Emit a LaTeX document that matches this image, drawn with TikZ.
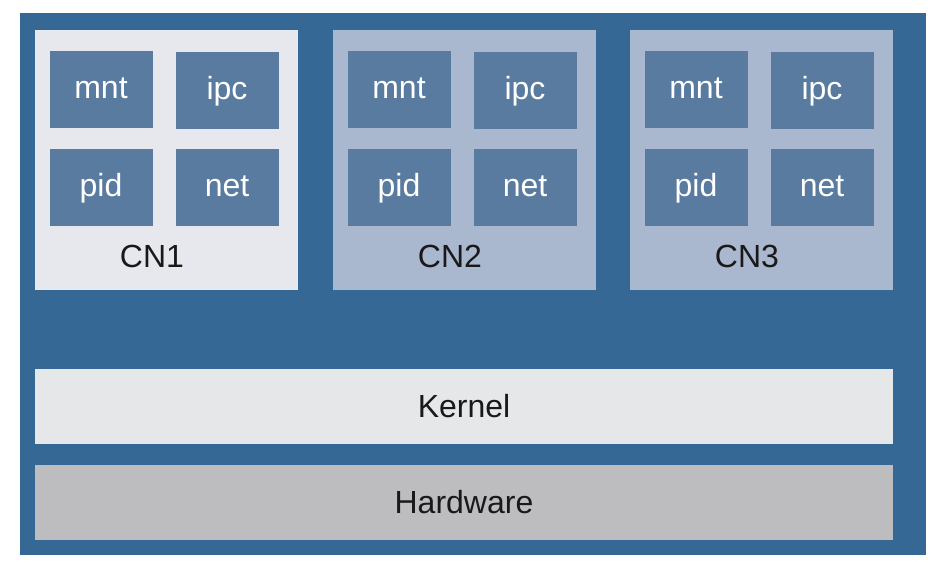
\documentclass[tikz,border=0pt]{standalone}
\usepackage{fontspec}
\setmainfont{Liberation Sans}
\definecolor{hostblue}{RGB}{54,104,149}
\definecolor{nsblue}{RGB}{90,123,160}
\definecolor{cnlight}{RGB}{230,232,238}
\definecolor{cnblue}{RGB}{169,183,207}
\definecolor{kernelgray}{RGB}{230,231,233}
\definecolor{hwgray}{RGB}{189,189,191}
\definecolor{labeltext}{RGB}{25,25,25}
\begin{document}
\begin{tikzpicture}[x=1pt,y=-1pt,
  nsbox/.style={fill=nsblue,minimum width=103pt,minimum height=77pt,inner sep=0pt,
    text height=23pt,text depth=5pt,
    text=white,font=\fontsize{32}{36}\selectfont},
  cnbox/.style={minimum width=263pt,minimum height=260pt,inner sep=0pt},
  layer/.style={minimum width=858pt,minimum height=75pt,inner sep=0pt,
    text=labeltext,font=\fontsize{32}{36}\selectfont}]

  \useasboundingbox[fill=white] (0,0) rectangle (938,564);
  \fill[hostblue] (20,13) rectangle (926,555);

  % containers with their namespaces
  \foreach \x/\n/\c in {35/1/cnlight,333/2/cnblue,630/3/cnblue}{
    \node[cnbox,fill=\c] (cn\n) at (\x+131.5,160) {};
    \node[nsbox] (mnt\n) at (\x+66,90) {mnt};
    \node[nsbox] (ipc\n) at (\x+192,91) {ipc};
    \node[nsbox] (pid\n) at (\x+66,188) {pid};
    \node[nsbox] (net\n) at (\x+192,188) {net};
    \node[text=labeltext,font=\fontsize{32}{36}\selectfont] (lbl\n) at (\x+117,256) {CN\n};
  }

  \node[layer,fill=kernelgray] (kernel) at (464,406.5) {Kernel};
  \node[layer,fill=hwgray] (hardware) at (464,502.5) {Hardware};

\end{tikzpicture}
\end{document}
